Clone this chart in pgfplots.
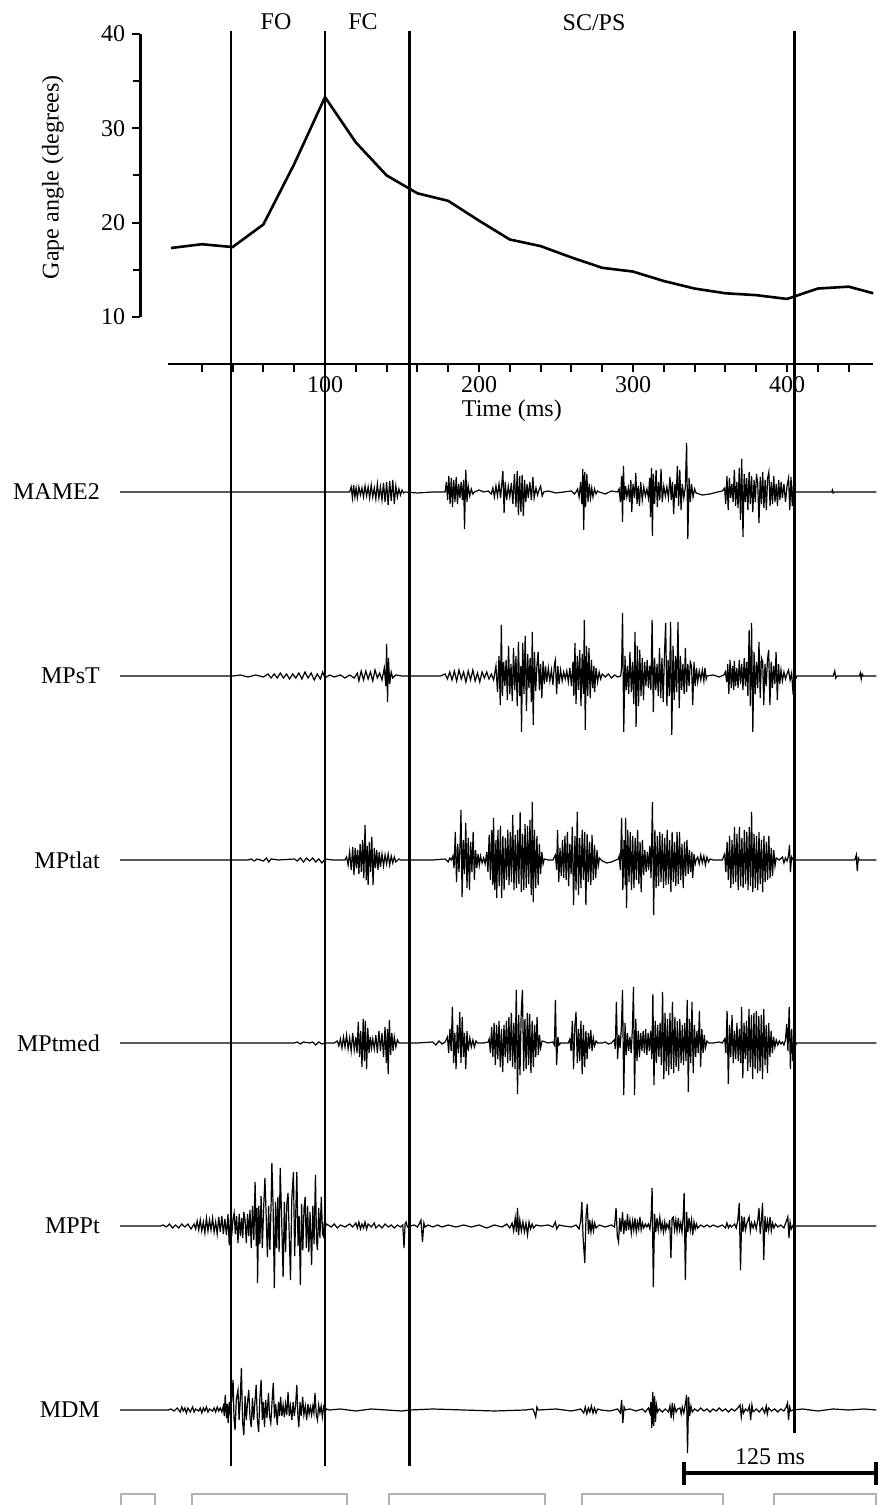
\documentclass[border=0pt]{standalone}
\usepackage{fontspec}
\setmainfont{Liberation Serif}
\usepackage{pgfplots}
\pgfplotsset{compat=1.18}
\usepackage{pgfplotstable}

\newcommand{\lbl}{\fontsize{12}{14}\selectfont}

% Gape angle (degrees) vs time (ms)
\pgfplotstableread[row sep=\\]{t g\\
0 17.3\\ 20 17.7\\ 40 17.4\\ 60 19.8\\ 80 26.2\\ 100 33.3\\ 120 28.5\\ 140 25.0\\ 160 23.1\\ 180 22.3\\ 200 20.2\\ 220 18.2\\ 240 17.5\\ 260 16.3\\ 280 15.2\\ 300 14.8\\ 320 13.8\\ 340 13.0\\ 360 12.5\\ 380 12.3\\ 400 11.9\\ 420 13.0\\ 440 13.2\\ 456 12.5\\
}\gape

% EMG traces: t (ms), amplitude (px, up positive)
\pgfplotstableread[row sep=\\]{t a\\
-33 0\\ 113 0\\ 116 0\\ 117 5\\ 117.8 -6\\ 118.6 7\\ 119.4 -5\\ 120.2 4\\ 121 -6\\ 122 5\\ 123 -3\\ 124 4\\ 125 -5\\ 126 6\\ 127 -4\\ 128 5\\ 129 -6\\ 130 7\\ 131 -5\\ 132 4\\ 133 -7\\ 134 8\\ 135 -6\\ 136 5\\ 137 -8\\ 138 9\\ 139 -10\\ 140 10\\ 141 -13\\ 142 11\\ 143 -9\\ 144 12\\ 145 -12\\ 146 6\\ 147 -5\\ 148 3\\ 149 -3\\ 150 2\\ 151 -1\\ 152 0\\ 160 -1\\ 170 0\\ 177 0\\
178 0\\ 178.8 10\\ 179.6 -8\\ 180.4 16\\ 181.2 -12\\ 182 14\\ 182.8 -15\\ 183.6 12\\ 184.4 -10\\ 185.2 15\\ 186 -12\\ 186.8 8\\ 187.6 -6\\ 188.4 10\\ 189.2 -8\\ 190 12\\ 190.6 -37\\ 191.4 22\\ 192.2 -10\\ 193 6\\ 194 -4\\ 195 3\\ 196 -2\\ 197 0\\ 200 2\\ 203 0\\ 206 1\\ 208 -2\\ 209 4\\ 210 -5\\ 211 6\\ 212 -4\\ 213 8\\ 214 -6\\ 215.5 21\\ 216.3 -21\\ 217 10\\ 218 -8\\ 219 6\\ 220 -5\\ 221 9\\ 222 -12\\ 223 18\\ 224 -15\\ 224.8 21\\ 225.6 -23\\ 226.4 16\\ 227.2 -20\\ 228 17\\ 228.8 -24\\ 229.6 12\\ 230.4 -10\\ 231.2 8\\ 232 -6\\ 233 10\\ 234 -8\\ 235 15\\ 235.8 -6\\ 237 4\\ 238 -3\\ 239 2\\ 240 6\\ 241 -4\\ 242 0\\ 245 1\\ 250 -1\\ 255 0\\ 260 1\\ 262 -2\\ 263 0\\
264 3\\ 265 -5\\ 266 10\\ 266.8 -12\\ 267.4 23\\ 268 -38\\ 268.6 20\\ 269.2 -15\\ 270 18\\ 270.8 -10\\ 271.6 8\\ 272.4 -6\\ 273.2 4\\ 274 -5\\ 275 3\\ 276 -2\\ 277 1\\ 278 0\\ 282 -2\\ 286 1\\ 290 0\\
291 3\\ 291.8 -10\\ 292.6 16\\ 293.2 -30\\ 293.8 26\\ 294.4 -8\\ 295.2 6\\ 296 -5\\ 297 4\\ 297.8 -10\\ 298.6 12\\ 299.2 -20\\ 300 8\\ 301 -6\\ 301.8 19\\ 302.6 -12\\ 303.4 6\\ 304.2 -14\\ 305 10\\ 306 -8\\ 307 5\\ 308 -4\\ 309 3\\ 310 -6\\ 310.8 14\\ 311.4 -25\\ 312 24\\ 312.6 -44\\ 313.2 18\\ 314 -12\\ 315 22\\ 315.8 -15\\ 316.6 10\\ 317.4 -8\\ 318.2 23\\ 319 -10\\ 320 6\\ 321 -4\\ 322 5\\ 323 -6\\ 324 15\\ 324.8 -8\\ 325.6 10\\ 326.4 -22\\ 327.2 8\\ 328 -6\\ 328.8 26\\ 329.6 -14\\ 330.4 22\\ 331.2 -18\\ 332 8\\ 333 -6\\ 334 5\\ 334.8 49\\ 335.6 -47\\ 336.4 14\\ 337.2 -10\\ 338 8\\ 339 -5\\ 340 3\\ 341 -1\\ 345 -3\\ 350 -2\\ 355 0\\ 358 1\\
359.5 4\\ 360.2 -12\\ 361 16\\ 361.8 -18\\ 362.6 14\\ 363.4 -6\\ 364.2 8\\ 365 -10\\ 365.8 22\\ 366.6 -14\\ 367.4 10\\ 368.2 -16\\ 369 24\\ 369.8 -28\\ 370.6 33\\ 371.4 -45\\ 372.2 18\\ 373 -10\\ 373.8 14\\ 374.6 -18\\ 375.4 20\\ 376.2 -12\\ 377 16\\ 377.8 -20\\ 378.6 12\\ 379.4 -10\\ 380.2 18\\ 381 8\\ 381.8 -31\\ 382.6 15\\ 383.4 -12\\ 384.2 20\\ 385 -16\\ 385.8 12\\ 386.6 -18\\ 387.4 14\\ 388.2 20\\ 389 -14\\ 389.8 10\\ 390.6 -12\\ 391.4 16\\ 392.2 -10\\ 393 8\\ 393.8 -14\\ 394.6 12\\ 395.4 -8\\ 396.2 10\\ 397 -6\\ 398 8\\ 399 -10\\ 400 6\\ 401 14\\ 401.8 -18\\ 402.6 15\\ 403.4 -14\\ 404.2 8\\ 405 0\\ 429 0\\ 429.5 2\\ 430 -1\\ 431 0\\ 458 0\\
}\mame

\pgfplotstableread[row sep=\\]{t a\\
-33 0\\ 40 0\\ 45 1\\ 50 -1\\ 55 1\\ 60 -1\\ 63 2\\ 65 -2\\ 67 2\\ 69 -2\\ 71 3\\ 73 -2\\ 75 2\\ 77 -3\\ 79 2\\ 81 -2\\ 83 3\\ 85 -3\\ 87 4\\ 89 -2\\ 91 3\\ 93 -4\\ 95 2\\ 97 -3\\ 98.5 4\\ 100 -2\\ 103 1\\ 106 -1\\ 110 1\\ 113 -2\\ 116 1\\ 119 -2\\ 121 3\\ 122 -5\\ 123.5 5\\ 125 -4\\ 126.5 5\\ 128 -3\\ 129.5 4\\ 131 -5\\ 132.5 6\\ 134 -2\\ 135.5 3\\ 137 -4\\ 138.5 8\\ 139.5 -10\\ 140 32\\ 140.6 -26\\ 141.2 18\\ 142 -8\\ 143 4\\ 144 -2\\ 146 1\\ 150 0\\ 175 0\\
178 2\\ 179.5 -3\\ 181 4\\ 182.5 -4\\ 184 5\\ 185.5 -5\\ 187 6\\ 188.5 -3\\ 190 4\\ 191.5 -6\\ 193 5\\ 194.5 -4\\ 196 6\\ 197.5 -5\\ 199 3\\ 200.5 -6\\ 202 4\\ 203.5 -2\\ 205 4\\ 206.5 -3\\ 208 2\\ 209.5 -4\\
211 10\\ 212 -16\\ 213 20\\ 213.8 -29\\ 214.5 51\\ 215.2 -20\\ 216 14\\ 216.8 -10\\ 217.6 16\\ 218.4 -24\\ 219.2 30\\ 220 -18\\ 220.8 12\\ 221.6 -25\\ 222.4 28\\ 223.2 -14\\ 224 20\\ 224.8 -30\\ 225.6 34\\ 226.4 -20\\ 227.2 10\\ 227.6 -56\\ 228.4 33\\ 229.2 -18\\ 230 40\\ 230.8 -35\\ 231.6 22\\ 232.4 -12\\ 233.2 18\\ 234 -26\\ 234.6 44\\ 235.2 -49\\ 236 24\\ 236.8 -15\\ 237.6 10\\ 238.4 24\\ 239.2 -14\\ 240 12\\ 240.8 -22\\ 241.6 15\\ 242.4 -8\\ 243.2 10\\ 244 -6\\ 245 8\\ 246 -5\\ 247 6\\ 248 -9\\ 249 12\\ 249.6 16\\ 250.4 -18\\ 251.2 10\\ 252 -8\\ 253 6\\ 254 -5\\ 255 4\\ 256 -3\\ 257 5\\ 258 -6\\ 259 8\\ 260 -10\\ 261 14\\ 261.6 -20\\ 262.3 33\\ 263 -28\\ 263.8 20\\ 264.6 -14\\ 265.4 26\\ 266.2 -30\\ 267 22\\ 267.8 -18\\ 268.4 56\\ 269 -54\\ 269.8 30\\ 270.6 -20\\ 271.4 28\\ 272.2 -22\\ 273 16\\ 273.8 -12\\ 274.6 10\\ 275.1 -16\\ 276 8\\ 277 -6\\ 278 4\\ 279 -3\\ 280 2\\ 282 -1\\ 284 2\\ 286 -2\\ 288 1\\ 290 -1\\ 292 0\\
292.6 8\\ 293.2 63\\ 294 -56\\ 294.8 20\\ 295.6 -14\\ 296.4 10\\ 297.2 -18\\ 298 24\\ 298.9 -16\\ 299.7 14\\ 300.5 -28\\ 301.3 44\\ 302 -51\\ 302.8 30\\ 303.6 -30\\ 304.4 26\\ 305.2 -20\\ 306 18\\ 306.8 -24\\ 307.6 14\\ 308.4 -10\\ 309.2 16\\ 310 -12\\ 310.8 10\\ 311.6 -14\\ 312.4 56\\ 313.2 -36\\ 314 18\\ 314.8 -14\\ 315.6 12\\ 316.4 -20\\ 317.2 28\\ 318 -22\\ 318.8 18\\ 319.6 -26\\ 320.4 20\\ 321.2 53\\ 322 -30\\ 322.8 16\\ 323.6 -20\\ 324.4 54\\ 325.2 -59\\ 326 30\\ 326.8 -24\\ 327.6 20\\ 328.4 -16\\ 329.2 54\\ 330 -32\\ 330.8 20\\ 331.6 -14\\ 332.4 12\\ 333.2 -18\\ 334 28\\ 334.8 -16\\ 335.6 12\\ 336.4 -10\\ 337.2 14\\ 338 10\\ 338.8 -29\\ 339.6 14\\ 340.4 -10\\ 341.2 8\\ 342 -6\\ 343 5\\ 344 -4\\ 345 6\\ 346 -5\\ 346.7 8\\ 347.5 -3\\ 348 0\\ 352 1\\ 356 -1\\ 359 1\\
360 4\\ 360.8 -6\\ 361.5 12\\ 362.2 -18\\ 363 16\\ 363.8 -12\\ 364.6 10\\ 365.4 -14\\ 365.8 15\\ 366.6 -10\\ 367.4 8\\ 368.2 -12\\ 369 16\\ 369.8 -8\\ 370.6 12\\ 371.4 -14\\ 372.2 18\\ 373 -10\\ 373.8 14\\ 374.6 -20\\ 375.4 46\\ 376.2 -30\\ 377 53\\ 377.8 -56\\ 378.6 24\\ 379.4 -18\\ 380.2 14\\ 381 -12\\ 381.8 34\\ 382.6 -22\\ 383.4 18\\ 384.2 14\\ 384.9 -29\\ 385.7 12\\ 386.5 -10\\ 387.3 16\\ 388.1 26\\ 388.9 -29\\ 389.7 14\\ 390.5 -12\\ 391.3 10\\ 392.1 -8\\ 392.9 24\\ 393.7 -24\\ 394.5 12\\ 395.3 -8\\ 396.1 6\\ 397 -5\\ 398 4\\ 399 -3\\ 400 2\\ 401 6\\ 402 -4\\ 403 3\\ 404 -19\\ 404.8 8\\ 405.6 -3\\ 406.5 0\\ 430 0\\ 431 5\\ 431.6 -2\\ 432.5 0\\ 447 0\\ 447.6 3\\ 448.2 -3\\ 448.8 2\\ 449.5 0\\ 458 0\\
}\mpst

\pgfplotstableread[row sep=\\]{t a\\
-33 0\\ 50 0\\ 52 1\\ 54 -1\\ 56 1\\ 60 -1\\ 62 2\\ 63.5 -2\\ 65 1\\ 70 0\\ 80 1\\ 82 -1\\ 84 2\\ 86 -2\\ 88 2\\ 90 -1\\ 92 2\\ 94 -2\\ 96 1\\ 98 -3\\ 100 1\\ 105 0\\ 113 0\\
114 3\\ 115 -5\\ 116 8\\ 117 -10\\ 118 13\\ 118.8 -15\\ 119.6 12\\ 120.4 -8\\ 121.2 10\\ 122 -14\\ 122.8 16\\ 123.6 -12\\ 124.4 20\\ 125.2 -18\\ 126 35\\ 126.8 -20\\ 127.4 14\\ 128 -25\\ 128.8 18\\ 129.6 -12\\ 130.4 23\\ 131.2 -25\\ 132 12\\ 132.8 -8\\ 133.6 10\\ 134.4 -10\\ 135.2 8\\ 136 -7\\ 137 6\\ 138 -6\\ 139 5\\ 140 -4\\ 141 6\\ 142 -5\\ 143 4\\ 144 -3\\ 145 3\\ 146 -2\\ 148 1\\ 149 0\\ 155 0\\ 170 0\\ 178 1\\ 180 -2\\ 181 2\\ 182 0\\
183 4\\ 183.8 -8\\ 184.6 28\\ 185.4 -22\\ 186.2 16\\ 187 -12\\ 187.8 20\\ 188.3 50\\ 189 -37\\ 189.8 20\\ 190.6 -14\\ 191.4 37\\ 192.2 -28\\ 193 22\\ 193.8 -30\\ 194.6 18\\ 195.4 -12\\ 196.2 28\\ 197 -20\\ 197.8 10\\ 198.6 -8\\ 199.4 6\\ 200.2 -5\\ 201 4\\ 202 -3\\ 203 2\\ 204 -4\\ 205 8\\ 205.8 -12\\ 206.6 25\\ 207.4 -20\\ 208.2 30\\ 209 -25\\ 209.4 42\\ 210.2 -30\\ 211 20\\ 211.5 -38\\ 212.3 30\\ 213.1 -26\\ 213.9 34\\ 214.7 -38\\ 215.5 24\\ 216.3 -30\\ 217.1 22\\ 217.9 -20\\ 218.7 30\\ 219.5 -25\\ 220.3 28\\ 221.1 -22\\ 221.9 45\\ 222.7 -30\\ 223.5 25\\ 224.3 -28\\ 225.1 30\\ 225.9 -24\\ 226.7 48\\ 227.5 -32\\ 228.3 26\\ 229.1 -30\\ 229.9 36\\ 230.7 -28\\ 231.5 34\\ 232.3 -24\\ 233.1 40\\ 233.9 -35\\ 234.6 58\\ 235.2 -42\\ 236 30\\ 236.8 -28\\ 237.6 24\\ 238.4 -25\\ 239.2 16\\ 240 -14\\ 240.8 8\\ 241.6 -4\\ 242.4 1\\ 245 0\\ 248 0\\
249.6 5\\ 250.4 -10\\ 251 30\\ 251.8 -22\\ 252.6 12\\ 253.4 -16\\ 254.2 20\\ 255 -18\\ 255.8 24\\ 256.6 -20\\ 257.4 28\\ 258.2 -26\\ 259 16\\ 259.8 -14\\ 260.6 33\\ 261.4 -45\\ 262.3 24\\ 263 -30\\ 263.8 48\\ 264.6 -35\\ 265.4 22\\ 266.2 -28\\ 267 30\\ 267.8 -20\\ 268.6 28\\ 269.4 -45\\ 270.2 26\\ 271 -22\\ 271.8 18\\ 272.6 -25\\ 273.4 25\\ 274.2 -20\\ 275 15\\ 275.8 -18\\ 276.6 10\\ 277.4 -6\\ 278.2 2\\ 280 -1\\ 283 -3\\ 286 -2\\ 289 0\\ 290.5 1\\
291 4\\ 291.8 -10\\ 292.6 42\\ 293.4 -30\\ 294.2 20\\ 295 -25\\ 295.2 42\\ 295.8 -48\\ 296.6 30\\ 297.4 -22\\ 298.2 28\\ 299 -30\\ 299.8 24\\ 300.6 -28\\ 301.4 22\\ 302.2 -20\\ 303 30\\ 303.8 -24\\ 304.6 18\\ 305.3 -32\\ 306.1 20\\ 306.9 -15\\ 307.7 10\\ 308.5 -12\\ 309.3 8\\ 310.1 -10\\ 310.9 14\\ 311.7 -18\\ 312.6 58\\ 313.4 -55\\ 314.2 30\\ 315 -28\\ 315.8 24\\ 316.6 -26\\ 317.4 28\\ 318.2 -22\\ 319 26\\ 319.8 -28\\ 320.6 22\\ 321.4 -25\\ 322.2 30\\ 323 -24\\ 323.8 20\\ 324.6 -32\\ 325.4 28\\ 326.2 -22\\ 327 18\\ 327.8 -26\\ 328.6 28\\ 329.4 -24\\ 330.2 28\\ 331 -20\\ 331.8 16\\ 332.6 -28\\ 333.4 18\\ 334.2 -16\\ 335 20\\ 335.8 -14\\ 336.6 10\\ 337.4 -12\\ 338.2 8\\ 338.8 -18\\ 339.6 6\\ 340.4 -4\\ 341 0\\ 342 3\\ 343 -4\\ 344 5\\ 345 -3\\ 346 4\\ 347 -5\\ 348 3\\ 349 -2\\ 350 1\\ 352 0\\ 358 0\\
359.5 6\\ 360.3 -12\\ 361.1 18\\ 361.9 -20\\ 362.7 24\\ 363.5 -28\\ 364.3 20\\ 365.1 -24\\ 365.9 33\\ 366.7 -22\\ 367.5 26\\ 368.3 -30\\ 369.1 33\\ 369.9 -26\\ 370.7 22\\ 371.5 -28\\ 372.3 30\\ 373.1 -24\\ 373.9 28\\ 374.7 -30\\ 375.5 33\\ 376.3 -26\\ 377 48\\ 377.8 -32\\ 378.6 26\\ 379.4 -28\\ 380.2 24\\ 381 -30\\ 381.8 28\\ 382.6 -24\\ 383.4 20\\ 384.2 -32\\ 385 24\\ 385.8 -22\\ 386.6 18\\ 387.4 -20\\ 388.2 24\\ 389 -18\\ 389.8 12\\ 390.6 -16\\ 391.4 10\\ 392.2 -6\\ 393 2\\ 395 0\\ 397 3\\ 398 -3\\ 399 2\\ 400 -1\\ 401 4\\ 401.6 15\\ 402.2 -12\\ 403 3\\ 404 0\\ 410 0\\ 444 0\\ 445 5\\ 445.6 -11\\ 446.3 2\\ 447 0\\ 458 0\\
}\mptlat

\pgfplotstableread[row sep=\\]{t a\\
-33 0\\ 80 0\\ 82 1\\ 84 -1\\ 86 1\\ 90 0\\ 92 1\\ 94 -2\\ 96 1\\ 98 -1\\ 100 0\\ 106 0\\
108 2\\ 109 -3\\ 110 4\\ 111 -5\\ 112 6\\ 113 -4\\ 114 8\\ 115 -6\\ 116 5\\ 117 -8\\ 118 10\\ 119 -7\\ 120 6\\ 120.8 -10\\ 121.6 21\\ 122.4 -14\\ 123.2 12\\ 124 -24\\ 124.8 24\\ 125.6 -18\\ 126.2 22\\ 127 -26\\ 127.8 15\\ 128.6 -10\\ 129.4 6\\ 130.2 -5\\ 131 4\\ 132 -6\\ 133 8\\ 134 -10\\ 135 12\\ 136 -8\\ 137 10\\ 138 -14\\ 139 16\\ 139.8 -20\\ 140.6 14\\ 141 -31\\ 141.8 23\\ 142.6 -12\\ 143.4 10\\ 144.2 -8\\ 145 6\\ 146 -4\\ 147 3\\ 148 0\\ 160 0\\ 170 1\\ 172 -2\\ 174 2\\ 176 -1\\ 178 1\\
179.5 6\\ 180.3 -10\\ 181.1 14\\ 181.9 -8\\ 182.7 36\\ 183.5 -20\\ 184.3 10\\ 185.1 -26\\ 185.9 18\\ 186.7 -10\\ 187.5 31\\ 188.3 -20\\ 189.1 26\\ 189.9 -14\\ 190.6 10\\ 191.4 -26\\ 192.2 12\\ 193 -8\\ 194 5\\ 195 -4\\ 196 3\\ 197 -4\\ 198 2\\ 199 0\\ 203 0\\ 206 1\\
206.6 4\\ 207.4 -10\\ 208.2 16\\ 209 -14\\ 209.8 20\\ 210.6 -22\\ 211.4 18\\ 212.2 -16\\ 213 22\\ 213.8 -24\\ 214.6 14\\ 215.4 -29\\ 216.2 18\\ 217 -14\\ 217.8 22\\ 218.6 -20\\ 219.4 26\\ 220.2 -18\\ 221 30\\ 221.8 -24\\ 222.6 20\\ 223.4 -26\\ 224.2 53\\ 225 -51\\ 225.8 28\\ 226.6 -32\\ 227.4 30\\ 228.2 53\\ 229 -28\\ 229.8 24\\ 230.6 -26\\ 231.4 30\\ 232.2 -22\\ 232.9 29\\ 233.7 -30\\ 234.5 22\\ 235.3 -24\\ 236.1 18\\ 236.9 -14\\ 237.7 26\\ 238.5 -12\\ 239.3 8\\ 240 -5\\ 241 2\\ 245 0\\ 248 1\\ 249 -2\\ 249.6 43\\ 250.4 -22\\ 251.2 6\\ 252 -2\\ 253 0\\ 258 0\\
259 4\\ 259.8 -8\\ 260.6 22\\ 261.4 -26\\ 262.2 16\\ 263 31\\ 263.8 -20\\ 264.6 14\\ 265.4 -18\\ 266.2 22\\ 267 -31\\ 267.8 18\\ 268.6 -24\\ 269.4 12\\ 270.2 -16\\ 271 10\\ 271.8 -6\\ 272.6 13\\ 273.4 -8\\ 274.2 5\\ 275 -3\\ 276 2\\ 277 0\\ 280 0\\ 282 1\\ 284 -1\\ 286 0\\
287.8 3\\ 288.5 -6\\ 289.2 41\\ 290 -16\\ 290.8 8\\ 291.6 -5\\ 292.4 14\\ 293.2 53\\ 294 -52\\ 294.8 20\\ 295.6 -12\\ 296.4 10\\ 297.2 -8\\ 298 6\\ 298.8 -10\\ 299.6 14\\ 300.3 56\\ 301 -52\\ 301.8 24\\ 302.6 -18\\ 303.4 12\\ 304.2 -14\\ 305 10\\ 305.8 -8\\ 306.6 12\\ 307.4 -10\\ 308.2 14\\ 309 -12\\ 309.8 10\\ 310.6 -8\\ 311.4 12\\ 312.2 -16\\ 312.9 49\\ 313.6 -42\\ 314.4 22\\ 315.2 -20\\ 316 18\\ 316.8 -14\\ 317.6 20\\ 318.4 -22\\ 319.2 51\\ 320 -36\\ 320.8 30\\ 321.6 -28\\ 322.4 24\\ 323.2 -32\\ 324 30\\ 324.8 -26\\ 325.6 41\\ 326.4 -30\\ 327.2 26\\ 328 -24\\ 328.8 22\\ 329.6 -28\\ 330.4 24\\ 331.2 -20\\ 332 18\\ 332.8 -22\\ 333.6 20\\ 334.4 -18\\ 335.2 43\\ 335.9 -49\\ 336.7 24\\ 337.5 -20\\ 338.3 41\\ 339.1 -30\\ 339.9 18\\ 340.7 -14\\ 341.5 12\\ 342.3 -10\\ 343.1 32\\ 343.9 -24\\ 344.7 14\\ 345.5 -10\\ 346.3 8\\ 347 -5\\ 348 2\\ 349 0\\ 352 0\\ 356 1\\ 358 0\\
359.5 4\\ 360.3 -10\\ 361.1 32\\ 361.9 -41\\ 362.7 18\\ 363.5 -14\\ 364.3 28\\ 365.1 -20\\ 365.9 12\\ 366.7 -16\\ 367.5 20\\ 368.3 -18\\ 369.1 14\\ 369.9 -20\\ 370.5 36\\ 371.3 -35\\ 372.1 20\\ 372.9 -16\\ 373.7 22\\ 374.5 -28\\ 375.3 34\\ 376.1 -24\\ 376.9 28\\ 377.7 -36\\ 378.5 30\\ 379.3 -26\\ 380.1 32\\ 380.9 -30\\ 381.7 27\\ 382.5 -28\\ 383.3 28\\ 384.1 -36\\ 384.9 34\\ 385.7 -22\\ 386.5 18\\ 387.3 -30\\ 388.1 20\\ 388.9 -14\\ 389.7 12\\ 390.5 -10\\ 391.3 6\\ 392.1 -4\\ 393 3\\ 394 -2\\ 395 2\\ 396 -1\\ 397 1\\ 398 -2\\ 399 3\\ 399.8 19\\ 400.6 -8\\ 401.4 36\\ 402.2 -26\\ 403 14\\ 403.8 -18\\ 404.6 8\\ 405.4 -3\\ 406.2 0\\ 458 0\\
}\mptmed

\pgfplotstableread[row sep=\\]{t a\\
-33 0\\ -7 0\\ -5 1\\ -3 -1\\ -1 2\\ 1 -2\\ 3 1\\ 5 -2\\ 7 2\\ 9 -1\\ 11 2\\ 13 -3\\ 15 2\\ 16 -3\\ 17 5\\ 18 -4\\ 19 6\\ 20 -5\\ 21 4\\ 22 -7\\ 23 8\\ 24 -5\\ 25 6\\ 26 -4\\ 27 8\\ 28 -6\\ 29 4\\ 30 -8\\ 31 9\\ 32 -6\\ 33 10\\ 34 -8\\ 35 7\\ 36 -9\\ 37 12\\
37.8 -19\\ 38.6 8\\ 39.4 -10\\ 40.2 6\\ 41 13\\ 41.8 -8\\ 42.6 10\\ 43.5 -17\\ 44.3 12\\ 45.1 -10\\ 45.9 8\\ 46.6 -12\\ 47.3 14\\ 48.1 6\\ 48.9 -17\\ 49.7 12\\ 50.5 -10\\ 51.3 16\\ 52.1 -22\\ 52.9 20\\ 53.8 -14\\ 54.6 44\\ 55.4 -20\\ 55.8 18\\ 56.2 -57\\ 57 20\\ 57.7 -18\\ 58.5 30\\ 59.3 -22\\ 60.2 20\\ 61 48\\ 61.8 10\\ 62.6 -31\\ 63.4 20\\ 64.2 -24\\ 65 22\\ 65.5 63\\ 66.3 20\\ 67.1 -62\\ 67.9 24\\ 68.6 -22\\ 69.4 29\\ 70.2 -26\\ 70.9 58\\ 71.8 10\\ 72.8 -51\\ 73.6 24\\ 74.4 -26\\ 75.2 22\\ 76 33\\ 76.8 -10\\ 77.6 -54\\ 78.4 26\\ 79.5 54\\ 80.3 -30\\ 81 12\\ 81.7 54\\ 82.5 -20\\ 83.2 10\\ 84 -59\\ 84.8 22\\ 85.6 -24\\ 86.4 18\\ 87.1 29\\ 87.9 -22\\ 88.7 20\\ 89.5 -26\\ 90.3 14\\ 91.3 -39\\ 92.1 20\\ 92.9 -18\\ 93.8 51\\ 94.5 -15\\ 95.1 -24\\ 95.9 18\\ 96.7 -12\\ 97.6 29\\ 98.4 -8\\ 98.9 -10\\ 99.5 4\\ 100 -3\\ 100.8 2\\
102 1\\ 104 -1\\ 106 2\\ 108 -2\\ 110 1\\ 113 -1\\ 116 2\\ 118 -1\\ 120 3\\ 121 -2\\ 122 4\\ 123 -3\\ 124 2\\ 125 -2\\ 126 4\\ 127 -3\\ 128 2\\ 130 -1\\ 132 3\\ 133 -2\\ 135 1\\ 137 -2\\ 139 2\\ 141 -1\\ 143 1\\ 145 -2\\ 147 1\\ 149 -1\\ 150.5 1\\ 151.3 -22\\ 152 2\\ 152.7 4\\ 153.5 -1\\ 155 0\\ 158 1\\ 160 -1\\ 161.5 3\\ 162.3 6\\ 163.3 -16\\ 164.2 3\\ 165 -1\\ 167 1\\ 170 -1\\ 173 1\\ 176 -1\\ 180 1\\ 185 -1\\ 190 1\\ 195 -1\\ 200 1\\ 205 -2\\ 210 1\\ 215 -1\\ 218 2\\ 220 -2\\
221.5 3\\ 222.5 -5\\ 223.5 8\\ 224.3 -6\\ 225 18\\ 225.7 -9\\ 226.5 6\\ 227.5 -5\\ 228.5 4\\ 229.5 -6\\ 230.5 3\\ 231.5 -9\\ 232.5 4\\ 233.5 -3\\ 234.5 2\\ 235.5 -2\\ 237 1\\ 240 0\\ 245 1\\ 248 -1\\ 249.6 4\\ 250.4 -3\\ 252 1\\ 255 0\\ 260 -1\\ 263 1\\
265 -3\\ 266 5\\ 266.8 24\\ 267.6 -12\\ 268.7 -37\\ 269.5 10\\ 270.3 22\\ 271.1 -8\\ 271.9 6\\ 272.7 -6\\ 273.5 4\\ 274.3 -5\\ 275.1 3\\ 276 -2\\ 278 1\\ 282 -1\\ 286 1\\ 288 -1\\
289 18\\ 289.8 -10\\ 290.6 -16\\ 291.4 8\\ 292.2 -6\\ 293.2 14\\ 294 -8\\ 294.8 6\\ 295.6 -5\\ 296.4 12\\ 297.2 -4\\ 298 6\\ 298.9 -7\\ 299.7 5\\ 300.5 -4\\ 301.3 8\\ 302.1 -6\\ 302.9 4\\ 303.7 -3\\ 304.5 9\\ 305.3 -4\\ 306.1 3\\ 307 -2\\ 308 2\\ 309 -1\\ 310 2\\ 311 -3\\ 311.8 10\\ 312.4 38\\ 313.2 -61\\ 314 12\\ 314.8 -6\\ 315.6 8\\ 316.4 -4\\ 317.4 9\\ 318.2 -4\\ 319 3\\ 319.8 -6\\ 320.6 4\\ 321.3 -4\\ 322 2\\ 323 -2\\ 323.8 6\\ 324.6 -32\\ 325.4 8\\ 326.2 9\\ 327 -4\\ 327.8 6\\ 328.6 -5\\ 329.4 8\\ 330.2 -4\\ 331 3\\ 331.8 -6\\ 332.6 10\\ 333.2 33\\ 334 -54\\ 334.8 14\\ 335.6 -6\\ 336.4 8\\ 337.2 -4\\ 338 6\\ 338.8 -9\\ 339.6 4\\ 340.4 -3\\ 341.2 2\\ 342 -2\\ 344 1\\ 346 -1\\ 348 1\\ 350 -1\\ 352 1\\ 355 -1\\ 358 1\\
360 -2\\ 361 3\\ 362 -2\\ 363 1\\ 364 -1\\ 366 2\\ 367 -2\\ 368 5\\ 369 23\\ 369.8 -44\\ 370.6 10\\ 371.4 -6\\ 372.2 9\\ 373 -4\\ 374 3\\ 375.4 9\\ 376.2 -5\\ 377 3\\ 378 -2\\ 379 4\\ 380 -3\\ 381 6\\ 381.8 18\\ 382.6 -8\\ 383.4 6\\ 384.1 23\\ 384.9 -34\\ 385.7 10\\ 386.5 -6\\ 387.3 5\\ 388.1 -4\\ 389 9\\ 389.8 -5\\ 390.6 3\\ 391.5 -2\\ 392.5 2\\ 394 -1\\ 396 1\\ 398 -2\\ 399.4 4\\ 400.5 9\\ 401.3 -12\\ 402 4\\ 402.8 -3\\ 404 1\\ 405 0\\ 458 0\\
}\mppt

\pgfplotstableread[row sep=\\]{t a\\
-33 0\\ -2 0\\ 0 1\\ 2 -1\\ 4 2\\ 6 -2\\ 7 3\\ 8 -1\\ 9 2\\ 10 -3\\ 11 2\\ 12.5 -2\\ 14 3\\ 15 -2\\ 16 1\\ 18 -1\\ 19 2\\ 20 -3\\ 21 2\\ 22 -1\\ 23 3\\ 24 -2\\ 25 1\\ 27 -1\\ 28 2\\ 29 -2\\ 30 3\\ 31 -1\\ 32 2\\ 33 -2\\
34 4\\ 34.6 -6\\ 35.2 15\\ 36 -8\\ 36.6 6\\ 37.1 -13\\ 37.9 8\\ 38.6 -6\\ 39.4 10\\ 40.3 30\\ 40.9 -8\\ 41.6 -20\\ 42.4 10\\ 43.5 20\\ 44.2 -10\\ 44.9 8\\ 45.7 42\\ 46.5 -12\\ 47.3 -25\\ 48.1 14\\ 48.9 -10\\ 49.7 8\\ 50.5 20\\ 51.3 -8\\ 52.1 -17\\ 52.9 12\\ 53.7 -10\\ 54.5 8\\ 55.3 25\\ 56.1 -10\\ 56.9 -22\\ 57.7 12\\ 58.5 30\\ 59.3 -10\\ 60 8\\ 60.7 -17\\ 61.5 10\\ 62.3 -8\\ 63.3 17\\ 64 -6\\ 64.8 -13\\ 65.6 8\\ 66.4 27\\ 67.2 -8\\ 68 6\\ 69 -15\\ 69.8 8\\ 70.5 -6\\ 71.2 13\\ 72 -6\\ 72.8 5\\ 73.6 -7\\ 74.4 6\\ 75.2 -5\\ 76 18\\ 76.8 -6\\ 77.6 4\\ 78.5 -10\\ 79.3 8\\ 80.1 -6\\ 80.9 5\\ 81.7 25\\ 82.4 -6\\ 83 -17\\ 83.8 8\\ 84.6 -6\\ 85.5 13\\ 86.3 -5\\ 87.2 4\\ 88.1 -10\\ 88.9 6\\ 89.7 -4\\ 90.5 3\\ 91.3 -5\\ 92.1 4\\ 92.8 -3\\ 93.5 17\\ 94.3 -4\\ 95.1 -10\\ 95.9 5\\ 96.7 -3\\ 97.5 4\\ 98.3 -7\\ 99.1 3\\ 100 -2\\ 101 1\\ 103 0\\
110 1\\ 120 -1\\ 130 1\\ 140 0\\ 150 -1\\ 155 0\\ 170 1\\ 190 0\\ 210 -1\\ 230 0\\ 235 1\\ 236 -3\\ 236.8 -7\\ 237.6 3\\ 238.5 0\\ 250 1\\ 260 -1\\ 266 1\\ 268 -3\\ 269 3\\ 270 -4\\ 271 2\\ 272 -2\\ 273 4\\ 274 -3\\ 275 2\\ 276 -3\\ 277 1\\ 279 0\\ 285 -1\\ 290 1\\ 291.8 -3\\ 292.6 10\\ 293.4 -13\\ 294.2 3\\ 295 0\\ 298 1\\ 302 -1\\ 306 1\\ 308 -2\\ 310 2\\ 311 -3\\ 311.6 8\\ 312.2 -18\\ 312.8 18\\ 313.4 -16\\ 314 14\\ 314.6 -12\\ 315.2 5\\ 316 -2\\ 317 1\\ 319 -2\\ 321 1\\ 323 -2\\ 324 4\\ 324.8 -8\\ 325.5 7\\ 326.3 -6\\ 327 4\\ 328 -2\\ 329 1\\ 330.5 2\\ 331.3 -4\\ 332 3\\ 333 -3\\ 334.2 8\\ 334.8 15\\ 335.4 -43\\ 336.1 13\\ 336.8 -6\\ 337.6 4\\ 338.5 -2\\ 340 1\\ 342 -1\\ 344 2\\ 346 -1\\ 348 1\\ 350 -2\\ 352 1\\ 354 -1\\ 356 2\\ 358 -1\\ 360 1\\ 362 -2\\ 364 1\\ 366 -1\\ 368 2\\ 369.5 5\\ 370.3 -7\\ 371.1 3\\ 371.8 -3\\ 373 1\\ 374.5 -1\\ 375.6 4\\ 376.4 -10\\ 377.2 5\\ 378 -2\\ 380 1\\ 382 -2\\ 384 2\\ 385.5 -3\\ 386.5 4\\ 387.2 -4\\ 388 2\\ 390 -1\\ 392 1\\ 394 -2\\ 396 1\\ 398 -1\\ 399.5 3\\ 400.3 7\\ 401 -10\\ 401.7 3\\ 402.5 -1\\ 404 0\\ 410 1\\ 420 -1\\ 430 1\\ 440 0\\ 450 1\\ 458 0\\
}\mdm

\begin{document}
\begin{tikzpicture}
% ---------------- EMG panel (y in pixel units, negative downwards) ----------
\begin{axis}[
  name=emg,
  x=0.77pt, y=0.5pt,
  xmin=-111.04, xmax=461.7, ymin=-1505, ymax=0,
  hide axis, clip=false,
]
\coordinate (BL) at (axis cs:-111.04,-1505);
\coordinate (TR) at (axis cs:461.7,0);
\coordinate (GSW) at (axis cs:-20,-364);

% event lines
\addplot[black, line width=1.3pt] coordinates {(39,-31) (39,-1466)};
\addplot[black, line width=1.3pt] coordinates {(100,-31) (100,-1466)};
\addplot[black, line width=1.3pt] coordinates {(155,-31) (155,-1466)};
\addplot[black, line width=1.3pt] coordinates {(405,-31) (405,-1433)};

% EMG traces
\addplot[black, line width=0.6pt] table[x=t, y expr=\thisrow{a}-492] {\mame};
\addplot[black, line width=0.6pt] table[x=t, y expr=\thisrow{a}-676] {\mpst};
\addplot[black, line width=0.6pt] table[x=t, y expr=\thisrow{a}-860] {\mptlat};
\addplot[black, line width=0.6pt] table[x=t, y expr=\thisrow{a}-1043] {\mptmed};
\addplot[black, line width=0.6pt] table[x=t, y expr=\thisrow{a}-1226] {\mppt};
\addplot[black, line width=0.6pt] table[x=t, y expr=\thisrow{a}-1410] {\mdm};

% trace names
\node[anchor=east, inner sep=0pt, font=\lbl] at (axis cs:-46,-492) {MAME2};
\node[anchor=east, inner sep=0pt, font=\lbl] at (axis cs:-46,-676) {MPsT};
\node[anchor=east, inner sep=0pt, font=\lbl] at (axis cs:-46,-860) {MPtlat};
\node[anchor=east, inner sep=0pt, font=\lbl] at (axis cs:-46,-1043) {MPtmed};
\node[anchor=east, inner sep=0pt, font=\lbl] at (axis cs:-46,-1226) {MPPt};
\node[anchor=east, inner sep=0pt, font=\lbl] at (axis cs:-46,-1410) {MDM};

% phase labels
\node[font=\lbl] at (axis cs:68.2,-22) {FO};
\node[font=\lbl] at (axis cs:124.7,-22) {FC};
\node[font=\lbl] at (axis cs:274.7,-23) {SC/PS};

% scale bar
\draw[line width=2pt] (axis cs:333.1,-1473) -- (axis cs:457.8,-1473);
\draw[line width=2.2pt] (axis cs:333.1,-1462) -- (axis cs:333.1,-1485);
\draw[line width=2.2pt] (axis cs:457.8,-1462) -- (axis cs:457.8,-1485);
\node[font=\lbl] at (axis cs:389,-1457) {125 ms};

% cropped page edge at the bottom
\draw[gray!60, line width=0.6pt] (axis cs:-32.5,-1505) |- (axis cs:-10.4,-1494) -- (axis cs:-10.4,-1505);
\draw[gray!60, line width=0.6pt] (axis cs:13.6,-1505) |- (axis cs:114.3,-1494) -- (axis cs:114.3,-1505);
\draw[gray!60, line width=0.6pt] (axis cs:141.6,-1505) |- (axis cs:242.9,-1494) -- (axis cs:242.9,-1505);
\draw[gray!60, line width=0.6pt] (axis cs:266.9,-1505) |- (axis cs:358.4,-1494) -- (axis cs:358.4,-1505);
\draw[gray!60, line width=0.6pt] (axis cs:391.6,-1505) |- (axis cs:457.8,-1494) -- (axis cs:457.8,-1505);
\end{axis}

% ---------------- Gape angle panel ----------------
\begin{axis}[
  at={(GSW)}, anchor=south west,
  x=0.77pt, y=4.715pt,
  xmin=-20, xmax=456, ymin=5, ymax=40,
  axis x line=bottom, axis y line=left,
  axis line style={-, line width=1.3pt},
  x axis line style={shorten <=13.86pt},
  y axis line style={shorten <=23.58pt},
  xtick={20,40,...,440},
  xticklabels={,,,,100,,,,,200,,,,,300,,,,,400,,},
  ytick={10,20,30,40}, minor ytick={15,25,35},
  tick align=outside,
  major tick length=4pt, minor tick length=3.5pt,
  tick style={black, line width=1pt},
  tick label style={font=\lbl},
  xticklabel style={yshift=1.5pt},
  /pgf/number format/assume math mode=true,
  xlabel={Time (ms)}, ylabel={Gape angle (degrees)},
  label style={font=\lbl},
  xlabel style={at={(axis description cs:0.507,-0.142)}, anchor=center},
  ylabel style={at={(axis description cs:-0.119,0.566)}, anchor=center},
  clip=false,
]
\addplot[black, line width=1.3pt] table[x=t, y=g] {\gape};
\end{axis}

\pgfresetboundingbox
\path[use as bounding box] (BL) rectangle (TR);
\end{tikzpicture}
\end{document}
